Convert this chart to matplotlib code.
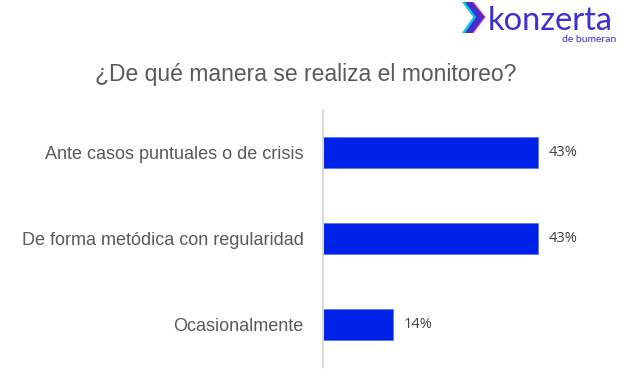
import matplotlib.pyplot as plt
from matplotlib.patches import Polygon

categories = ["Ante casos puntuales o de crisis",
              "De forma metódica con regularidad",
              "Ocasionalmente"]
values = [43, 43, 14]
value_labels = ["43%", "43%", "14%"]
title = "¿De qué manera se realiza el monitoreo?"

W, H = 639, 374
fig = plt.figure(figsize=(W / 100, H / 100), dpi=100)

ax = fig.add_axes([323 / W, 7 / H, 300 / W, 257 / H])
pos = list(range(len(categories)))
ax.barh(pos, values, height=0.36, color="#0021E8", edgecolor="#5a78f0", linewidth=0.6)
ax.set_xlim(0, 60)
ax.set_ylim(len(categories) - 1 + 0.494, -0.494)

for p, v, lab in zip(pos, values, value_labels):
    ax.text(v + 2.2, p, lab, va="center", ha="left", fontsize=10.5,
            color="#404040", family="Open Sans")

ax.set_yticks(pos)
ax.set_yticklabels(categories, fontsize=13, color="#595959", family="Liberation Sans")
ax.tick_params(axis="y", length=0, pad=14)
ax.set_xticks([])
for s in ["top", "right", "bottom"]:
    ax.spines[s].set_visible(False)
ax.spines["left"].set_color("#d9d9d9")
ax.spines["left"].set_linewidth(1.5)

fig.text(306 / W, 1 - 75 / H, title, ha="center", va="center", fontsize=16.5,
         color="#595959", family="Liberation Sans")

# logo
def px(x, y):
    return (x / W, 1 - y / H)

for dx, col in [(-3, "#00c8d8"), (1.5, "#e0207a"), (0, "#3a2fd8")]:
    pts = [(465, 2), (472, 2), (484, 17), (472, 33), (465, 33), (476, 17)]
    fig.patches.append(Polygon([px(x + dx, y) for x, y in pts], closed=True,
                               transform=fig.transFigure, facecolor=col,
                               edgecolor="none", alpha=0.95))
fig.text(488 / W, 1 - 30 / H, "konzerta", ha="left", va="baseline", fontsize=23.5,
         color="#3a30d6", family="Lato")
fig.text(616 / W, 1 - 42 / H, "de bumeran", ha="right", va="baseline", fontsize=7.5,
         color="#3a30d6", family="Lato")

fig.savefig("out.png", dpi=100)
